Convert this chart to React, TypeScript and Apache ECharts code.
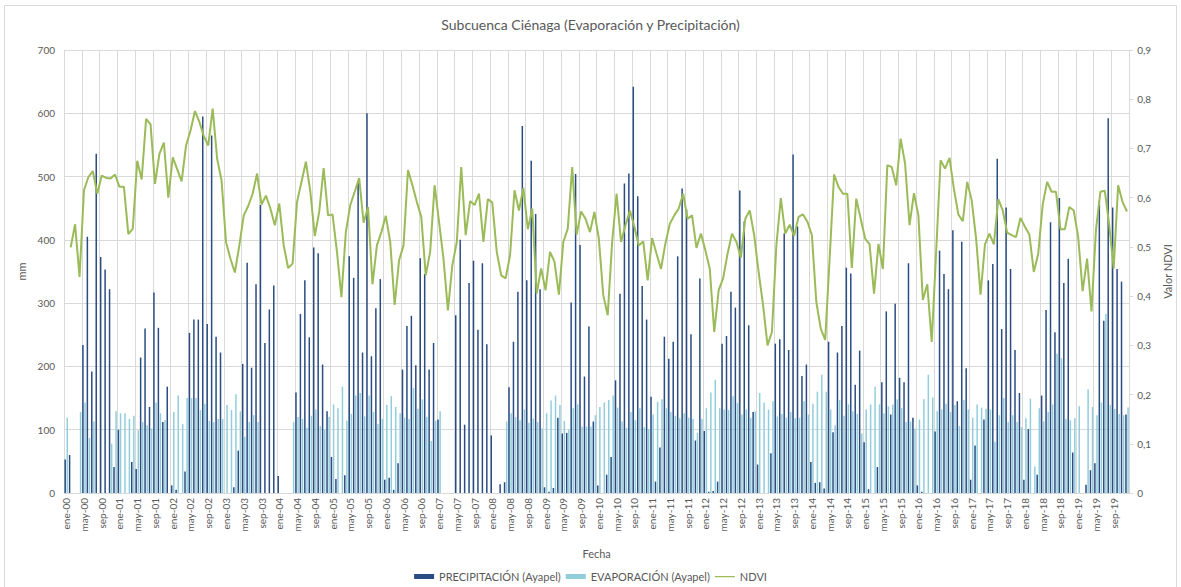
import React, { useEffect, useRef } from "react";
import * as echarts from "echarts";

const MONTHS = ["ene", "feb", "mar", "abr", "may", "jun", "jul", "ago", "sep", "oct", "nov", "dic"];
const YEARS = ["00", "01", "02", "03", "04", "05", "06", "07", "08", "09", "10", "11", "12", "13", "14", "15", "16", "17", "18", "19"];
const categories = YEARS.flatMap((y) => MONTHS.map((m) => `${m}-${y}`));

// PRECIPITACIÓN (Ayapel), mm — one row per year (ene..dic)
const precipitation = [
  53, 60, 0, 0, 234, 405, 192, 536, 373, 353, 322, 41,
  100, 0, 0, 49, 38, 214, 260, 136, 317, 261, 112, 168,
  12, 5, 0, 34, 253, 274, 274, 595, 267, 565, 247, 222,
  0, 0, 9, 67, 204, 364, 198, 330, 455, 237, 290, 328,
  27, 0, 0, 0, 159, 283, 336, 246, 388, 379, 203, 129,
  57, 22, 0, 28, 374, 340, 493, 222, 600, 216, 292, 338,
  21, 24, 5, 47, 195, 264, 280, 202, 371, 346, 195, 237,
  116, 0, 0, 0, 281, 400, 108, 332, 367, 258, 363, 235,
  91, 0, 14, 17, 167, 239, 318, 580, 336, 525, 441, 322,
  9, 2, 8, 119, 94, 95, 301, 504, 392, 184, 263, 113,
  12, 0, 29, 57, 178, 315, 489, 505, 642, 469, 327, 274,
  152, 18, 72, 247, 212, 239, 374, 481, 448, 251, 83, 339,
  98, 2, 3, 18, 236, 248, 318, 293, 478, 429, 265, 128,
  45, 0, 0, 63, 236, 243, 410, 226, 535, 421, 185, 203,
  49, 16, 17, 7, 239, 96, 222, 264, 356, 347, 171, 225,
  80, 6, 0, 41, 175, 287, 124, 299, 182, 175, 363, 119,
  12, 2, 0, 0, 97, 383, 346, 322, 415, 145, 397, 197,
  21, 75, 0, 116, 336, 362, 528, 259, 451, 354, 226, 158,
  21, 101, 0, 29, 154, 289, 428, 254, 466, 332, 370, 64,
  0, 0, 13, 36, 47, 461, 272, 592, 451, 354, 334, 124,
];

// EVAPORACIÓN (Ayapel), mm
const evaporation = [
  119, 0, 0, 128, 143, 87, 113, 0, 0, 0, 78, 129,
  126, 126, 117, 122, 99, 112, 107, 102, 143, 126, 115, 0,
  128, 154, 109, 150, 150, 150, 131, 141, 114, 112, 117, 117,
  139, 131, 156, 129, 89, 112, 123, 112, 0, 0, 0, 0,
  0, 0, 0, 112, 120, 117, 103, 122, 132, 106, 100, 120,
  140, 134, 168, 114, 125, 154, 158, 121, 154, 128, 109, 117,
  139, 153, 136, 126, 119, 117, 166, 133, 148, 120, 82, 114,
  129, 0, 0, 0, 0, 0, 0, 0, 0, 0, 0, 0,
  0, 0, 0, 113, 126, 120, 115, 132, 111, 118, 112, 102,
  126, 146, 154, 139, 114, 100, 134, 140, 105, 105, 105, 123,
  136, 143, 147, 154, 135, 113, 103, 128, 115, 134, 104, 101,
  124, 144, 148, 134, 128, 122, 118, 126, 119, 117, 95, 117,
  134, 159, 179, 134, 132, 131, 153, 142, 124, 132, 119, 129,
  158, 143, 132, 145, 121, 125, 119, 128, 118, 119, 145, 124,
  141, 160, 187, 160, 132, 107, 147, 122, 140, 129, 125, 94,
  132, 140, 168, 140, 126, 137, 140, 148, 134, 112, 113, 102,
  116, 148, 187, 151, 129, 132, 141, 128, 139, 106, 147, 132,
  119, 140, 135, 133, 132, 81, 123, 150, 112, 123, 112, 104,
  118, 149, 42, 134, 113, 128, 140, 220, 213, 117, 115, 118,
  137, 0, 164, 136, 123, 143, 283, 139, 133, 125, 123, 135,
];

// NDVI (right axis)
const ndvi = [
  null, 0.499, 0.546, 0.439, 0.615, 0.642, 0.654, 0.608, 0.645, 0.640, 0.639, 0.647,
  0.622, 0.622, 0.526, 0.537, 0.675, 0.637, 0.760, 0.749, 0.628, 0.689, 0.712, 0.600,
  0.682, 0.658, 0.633, 0.706, 0.736, 0.776, 0.754, 0.725, 0.706, 0.781, 0.679, 0.635,
  0.510, 0.476, 0.448, 0.503, 0.564, 0.583, 0.608, 0.649, 0.586, 0.604, 0.578, 0.544,
  0.588, 0.503, 0.457, 0.466, 0.591, 0.632, 0.673, 0.612, 0.522, 0.571, 0.660, 0.564,
  0.566, 0.490, 0.398, 0.530, 0.585, 0.612, 0.640, 0.549, 0.581, 0.424, 0.503, 0.530,
  0.563, 0.510, 0.382, 0.473, 0.503, 0.656, 0.625, 0.591, 0.561, 0.442, 0.490, 0.625,
  0.551, 0.476, 0.371, 0.463, 0.510, 0.662, 0.524, 0.593, 0.585, 0.608, 0.510, 0.597,
  0.590, 0.490, 0.442, 0.436, 0.483, 0.615, 0.574, 0.620, 0.536, 0.578, 0.405, 0.456,
  0.412, 0.490, 0.470, 0.403, 0.510, 0.537, 0.662, 0.525, 0.572, 0.557, 0.530, 0.571,
  0.517, 0.402, 0.361, 0.510, 0.608, 0.510, 0.544, 0.574, 0.541, 0.503, 0.511, 0.432,
  0.518, 0.486, 0.455, 0.507, 0.547, 0.564, 0.578, 0.608, 0.557, 0.564, 0.498, 0.527,
  0.493, 0.455, 0.327, 0.412, 0.436, 0.486, 0.527, 0.510, 0.478, 0.557, 0.574, 0.524,
  0.449, 0.382, 0.300, 0.327, 0.503, 0.599, 0.527, 0.545, 0.522, 0.561, 0.566, 0.551,
  0.524, 0.388, 0.334, 0.311, 0.476, 0.647, 0.622, 0.608, 0.608, 0.457, 0.598, 0.557,
  0.517, 0.505, 0.405, 0.506, 0.455, 0.666, 0.662, 0.625, 0.720, 0.669, 0.544, 0.609,
  0.564, 0.392, 0.424, 0.307, 0.490, 0.676, 0.659, 0.681, 0.618, 0.566, 0.552, 0.632,
  0.595, 0.517, 0.403, 0.505, 0.527, 0.505, 0.597, 0.574, 0.529, 0.524, 0.520, 0.559,
  0.541, 0.525, 0.449, 0.486, 0.586, 0.632, 0.612, 0.612, 0.536, 0.536, 0.581, 0.574,
  0.520, 0.410, 0.476, 0.369, 0.534, 0.612, 0.614, 0.544, 0.456, 0.625, 0.591, 0.572,
];

const TEXT = "#595959";
const GRID = "#d9d9d9";
const FONT = "Lato, 'Noto Sans', sans-serif";
const LINE_ICON = "path://M0,0L0.01,0Z M0,2L20,2L20,3.2L0,3.2Z M19.99,5L20,5Z";

export default function App() {
  const ref = useRef<HTMLDivElement>(null);

  useEffect(() => {
    if (!ref.current) return;
    const chart = echarts.init(ref.current, undefined, { renderer: "svg" });
    chart.setOption({
      animation: false,
      backgroundColor: "#ffffff",
      textStyle: { fontFamily: FONT },
      title: {
        text: "Subcuenca Ciénaga (Evaporación y Precipitación)",
        left: "center",
        top: 12,
        textStyle: { fontSize: 14, fontWeight: "normal", color: TEXT, fontFamily: FONT },
      },
      graphic: [
        {
          type: "rect",
          shape: { x: 4.5, y: 5.5, width: 1172, height: 590 },
          style: { fill: "none", stroke: GRID, lineWidth: 1 },
          silent: true,
        },
      ],
      legend: {
        top: 566,
        left: "center",
        itemWidth: 20,
        itemHeight: 5,
        itemGap: 5,
        textStyle: { fontSize: 11, color: TEXT, fontFamily: FONT },
        data: [
          { name: "PRECIPITACIÓN (Ayapel)", icon: "rect" },
          { name: "EVAPORACIÓN (Ayapel)", icon: "rect" },
          { name: "NDVI", icon: LINE_ICON },
        ],
      },
      grid: { left: 64, right: 51, top: 50, bottom: 94, containLabel: false },
      xAxis: {
        type: "category",
        data: categories,
        boundaryGap: true,
        name: "Fecha",
        nameLocation: "middle",
        nameGap: 55,
        nameTextStyle: { fontSize: 11, color: TEXT, fontFamily: FONT },
        axisLine: { show: true, lineStyle: { color: GRID } },
        axisTick: { show: false },
        axisLabel: {
          interval: (i: number) => i % 4 === 0,
          rotate: 90,
          fontSize: 10,
          color: TEXT,
          fontFamily: FONT,
          margin: 5,
        },
        splitLine: {
          show: true,
          interval: (i: number) => i % 4 === 0,
          lineStyle: { color: GRID, width: 1 },
        },
      },
      yAxis: [
        {
          type: "value",
          min: 0,
          max: 700,
          interval: 100,
          name: "mm",
          nameLocation: "middle",
          nameGap: 36,
          nameRotate: 90,
          nameTextStyle: { fontSize: 11, color: TEXT, fontFamily: FONT },
          axisLine: { show: false },
          axisTick: { show: false },
          axisLabel: { fontSize: 10, color: TEXT, fontFamily: FONT, margin: 9 },
          splitLine: { show: true, lineStyle: { color: GRID, width: 1 } },
        },
        {
          type: "value",
          min: 0,
          max: 0.9,
          interval: 0.1,
          position: "right",
          name: "Valor NDVI",
          nameLocation: "middle",
          nameGap: 30,
          nameRotate: 90,
          nameTextStyle: { fontSize: 11, color: TEXT, fontFamily: FONT },
          axisLine: { show: true, lineStyle: { color: GRID } },
          axisTick: { show: true, length: 4, lineStyle: { color: GRID } },
          axisLabel: {
            fontSize: 10,
            color: TEXT,
            fontFamily: FONT,
            margin: 8,
            formatter: (v: number) => (v === 0 ? "0" : v.toFixed(1).replace(".", ",")),
          },
          splitLine: { show: false },
        },
      ],
      series: [
        {
          name: "PRECIPITACIÓN (Ayapel)",
          type: "bar",
          data: precipitation,
          barWidth: 1.5,
          barGap: "40%",
          itemStyle: { color: "#2a4c82" },
          yAxisIndex: 0,
        },
        {
          name: "EVAPORACIÓN (Ayapel)",
          type: "bar",
          data: evaporation,
          barWidth: 1.5,
          barGap: "40%",
          itemStyle: { color: "#92cddc" },
          yAxisIndex: 0,
        },
        {
          name: "NDVI",
          type: "line",
          data: ndvi,
          yAxisIndex: 1,
          symbol: "none",
          showSymbol: false,
          lineStyle: { color: "#9bbb59", width: 2 },
          itemStyle: { color: "#9bbb59" },
          connectNulls: false,
        },
      ],
    });
    return () => chart.dispose();
  }, []);

  return (
    <div
      ref={ref}
      style={{ position: "fixed", left: 0, top: 0, width: 1181, height: 587, background: "#fff" }}
    />
  );
}
